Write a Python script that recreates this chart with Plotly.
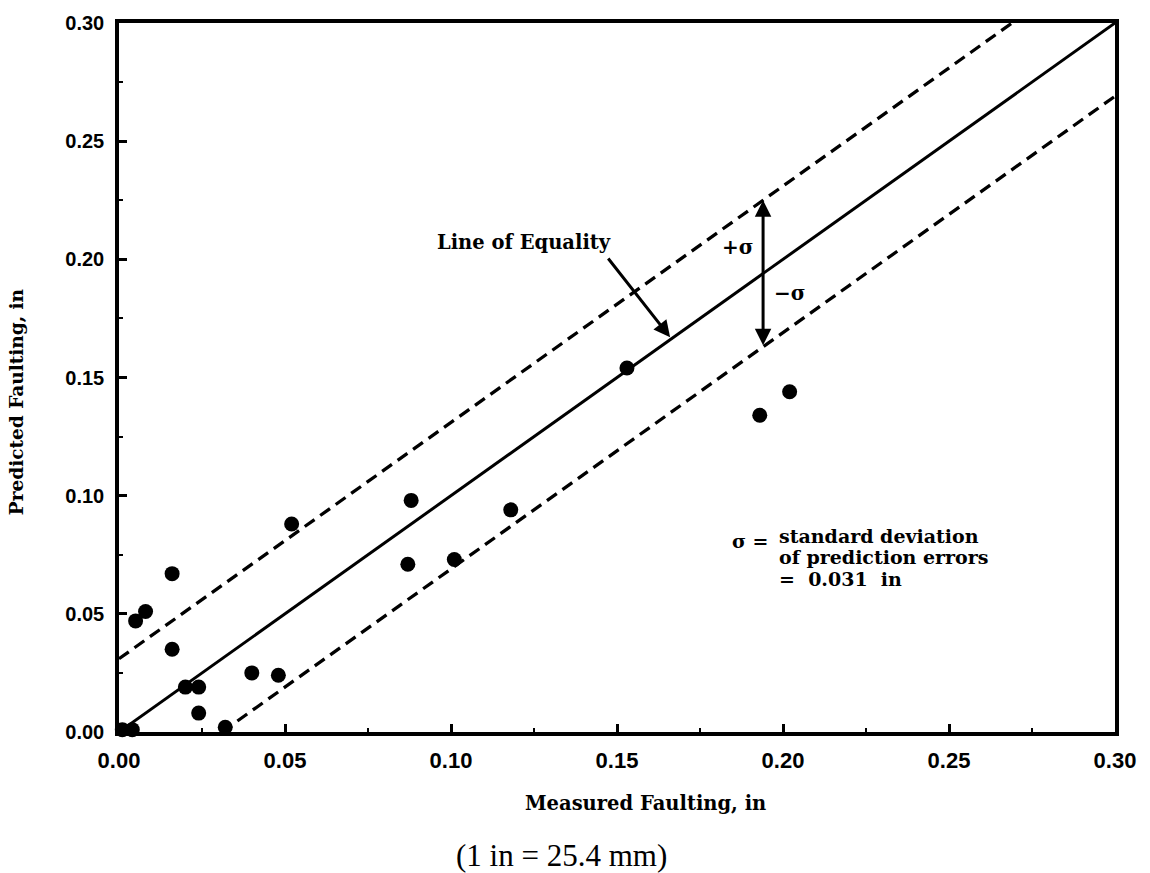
import plotly.graph_objects as go

# Data
measured = [0.001, 0.004, 0.005, 0.008, 0.016, 0.016, 0.020, 0.024, 0.024, 0.032,
            0.040, 0.048, 0.052, 0.087, 0.088, 0.101, 0.118, 0.153, 0.193, 0.202]
predicted = [0.001, 0.001, 0.047, 0.051, 0.067, 0.035, 0.019, 0.019, 0.008, 0.002,
             0.025, 0.024, 0.088, 0.071, 0.098, 0.073, 0.094, 0.154, 0.134, 0.144]
sigma = 0.031
axis_min, axis_max = 0.0, 0.30
tick_vals = [0.00, 0.05, 0.10, 0.15, 0.20, 0.25, 0.30]
tick_text = ["0.00", "0.05", "0.10", "0.15", "0.20", "0.25", "0.30"]
arrow_x = 0.194  # where the +/- sigma double arrow is drawn

# Plot-area pixel box (for placing paper-referenced texts)
L, R, T, B = 119, 1115, 14, 732
W, H = 1150, 873

def px(x):
    return (x - L) / (R - L)

def py(y):
    return (B - y) / (B - T)

fig = go.Figure()

# line of equality
fig.add_trace(go.Scatter(x=[axis_min, axis_max], y=[axis_min, axis_max], mode="lines",
                         line=dict(color="black", width=3), hoverinfo="skip"))
# +sigma line
fig.add_trace(go.Scatter(x=[axis_min, axis_max - sigma], y=[axis_min + sigma, axis_max], mode="lines",
                         line=dict(color="black", width=3.3, dash="12px,7px"), hoverinfo="skip"))
# -sigma line
fig.add_trace(go.Scatter(x=[axis_min + sigma, axis_max], y=[axis_min, axis_max - sigma], mode="lines",
                         line=dict(color="black", width=3.3, dash="12px,7px"), hoverinfo="skip"))
# data points
fig.add_trace(go.Scatter(x=measured, y=predicted, mode="markers",
                         marker=dict(color="black", size=15), cliponaxis=False))

common = dict(range=[axis_min, axis_max], showgrid=False, zeroline=False,
              showline=True, linecolor="black", linewidth=3.5, mirror=True,
              tickmode="array", tickvals=tick_vals, ticktext=tick_text,
              ticks="inside", tickcolor="black", tickwidth=2.5, ticklen=8,
              minor=dict(ticks="inside", ticklen=4, tickwidth=2, tickcolor="black", dtick=0.025))
fig.update_xaxes(**common, ticklabelstandoff=6,
                 tickfont=dict(family="Liberation Sans", size=22, color="black", weight="bold"))
fig.update_yaxes(**common, ticklabelstandoff=7,
                 tickfont=dict(family="Liberation Sans", size=20, color="black", weight="bold"))

SB = "DejaVu Serif"

def label(text, x, y, size, xanchor="center", **kw):
    d = dict(text=text, xref="paper", yref="paper", x=px(x), y=py(y), showarrow=False,
             xanchor=xanchor, yanchor="middle",
             font=dict(family=SB, size=size, color="black", weight="bold"))
    d.update(kw)
    return d

annotations = [
    # axis titles
    label("Measured Faulting, in", 645, 804, 19.5),
    label("Predicted Faulting, in", 16, 398, 18.5, textangle=-90),
    dict(text="(1 in = 25.4 mm)", xref="paper", yref="paper", x=px(561), y=py(857),
         xanchor="center", yanchor="middle", showarrow=False,
         font=dict(family="Liberation Serif", size=31, color="black")),
    # Line of Equality label + arrow
    label("Line of Equality", 524, 236, 19.5),
    dict(text="", x=0.166, y=0.167, ax=0.147, ay=0.201, xref="x", yref="y", axref="x", ayref="y",
         showarrow=True, arrowhead=2, arrowsize=1.1, arrowwidth=3, arrowcolor="black"),
    # +/- sigma double arrow
    dict(text="", x=arrow_x, y=arrow_x + sigma, ax=arrow_x, ay=arrow_x - sigma, xref="x", yref="y",
         axref="x", ayref="y", showarrow=True, arrowhead=2, startarrowhead=2, arrowside="end+start",
         arrowsize=1.1, startarrowsize=1.1, arrowwidth=3, arrowcolor="black"),
    label("+σ", 738, 241, 20),
    label("−σ", 790, 287, 20),
    # sigma definition
    label("σ =", 750, 539, 19),
    label("standard deviation", 777, 534, 19, xanchor="left"),
    label("of prediction errors", 777, 555, 19, xanchor="left"),
    label("=\u00a0\u00a00.031\u00a0\u00a0in", 777, 577, 19, xanchor="left"),
]

fig.update_layout(
    width=W, height=H,
    margin=dict(l=L, r=W - R, t=T, b=H - B),
    paper_bgcolor="white", plot_bgcolor="white",
    showlegend=False,
    annotations=annotations,
)

fig.write_html("out.html")
